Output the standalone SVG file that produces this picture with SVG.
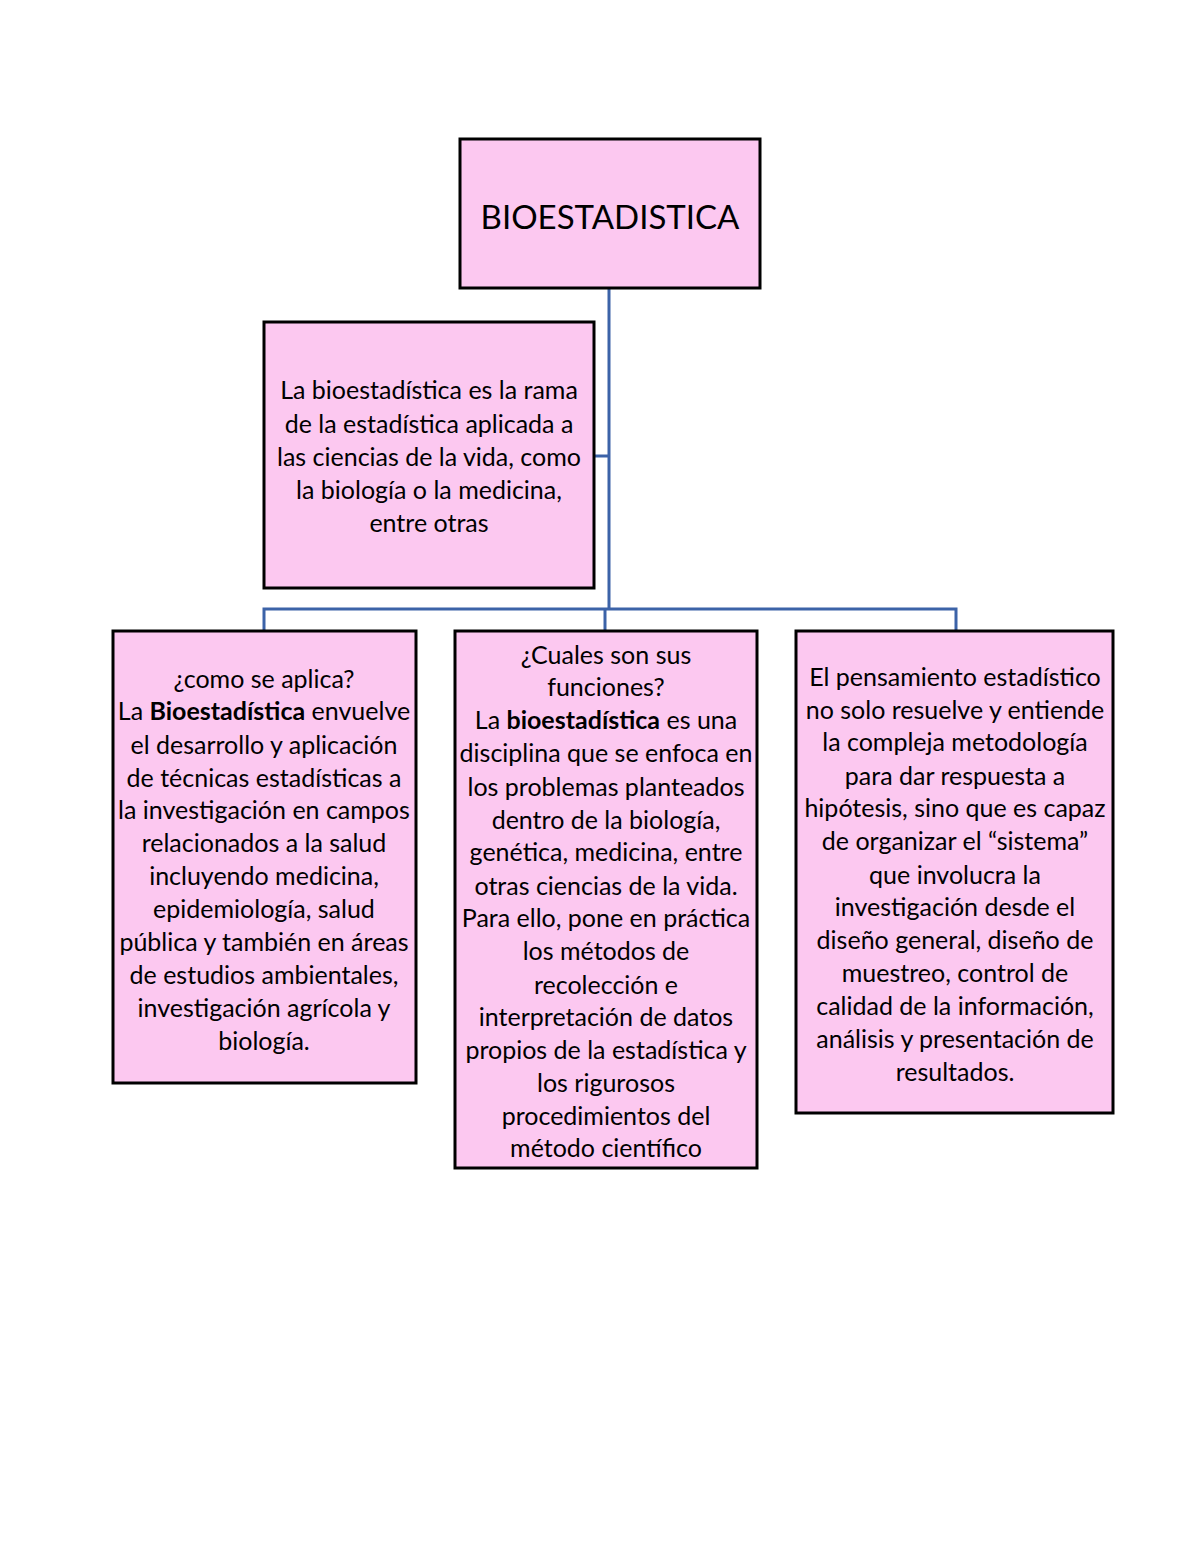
<svg xmlns="http://www.w3.org/2000/svg" width="1200" height="1553" viewBox="0 0 1200 1553">
<style>
.box{fill:#FCC8F0;stroke:#000;stroke-width:3}
.t{font-family:Lato,"Liberation Sans",sans-serif;font-size:25px;fill:#000;text-anchor:middle}
.title{font-family:Lato,"Liberation Sans",sans-serif;font-size:33px;fill:#000;text-anchor:middle}
.c{fill:none;stroke:#3C63A8;stroke-width:3}
</style>
<rect width="1200" height="1553" fill="#fff"/>
<g id="connectors">
<path class="c" d="M609 288V609"/>
<path class="c" d="M594 456H609"/>
<path class="c" d="M264 631V609H956V631"/>
<path class="c" d="M605 609V631"/>
</g>
<g id="n-bio">
<rect class="box" x="460" y="139" width="300" height="149"/>
<text class="title" x="610" y="229">BIOESTADISTICA</text>
</g>
<g id="n-def">
<rect class="box" x="264" y="322" width="330" height="266"/>
<text class="t"><tspan x="429" y="399">La bioestadística es la rama</tspan><tspan x="429" y="433">de la estadística aplicada a</tspan><tspan x="429" y="466">las ciencias de la vida, como</tspan><tspan x="429" y="499">la biología o la medicina,</tspan><tspan x="429" y="532">entre otras</tspan></text>
</g>
<g id="n-aplica">
<rect class="box" x="113" y="631" width="303" height="452"/>
<text class="t"><tspan x="264" y="688">¿como se aplica?</tspan><tspan x="264" y="720">La <tspan font-weight="bold">Bioestadística</tspan> envuelve</tspan><tspan x="264" y="754">el desarrollo y aplicación</tspan><tspan x="264" y="787">de técnicas estadísticas a</tspan><tspan x="264" y="819">la investigación en campos</tspan><tspan x="264" y="852">relacionados a la salud</tspan><tspan x="264" y="885">incluyendo medicina,</tspan><tspan x="264" y="918">epidemiología, salud</tspan><tspan x="264" y="951">pública y también en áreas</tspan><tspan x="264" y="984">de estudios ambientales,</tspan><tspan x="264" y="1017">investigación agrícola y</tspan><tspan x="264" y="1050">biología.</tspan></text>
</g>
<g id="n-funciones">
<rect class="box" x="455" y="631" width="302" height="537"/>
<text class="t"><tspan x="606" y="664">¿Cuales son sus</tspan><tspan x="606" y="696">funciones?</tspan><tspan x="606" y="729">La <tspan font-weight="bold">bioestadística</tspan> es una</tspan><tspan x="606" y="762">disciplina que se enfoca en</tspan><tspan x="606" y="796">los problemas planteados</tspan><tspan x="606" y="829">dentro de la biología,</tspan><tspan x="606" y="861">genética, medicina, entre</tspan><tspan x="606" y="895">otras ciencias de la vida.</tspan><tspan x="606" y="927">Para ello, pone en práctica</tspan><tspan x="606" y="960">los métodos de</tspan><tspan x="606" y="994">recolección e</tspan><tspan x="606" y="1026">interpretación de datos</tspan><tspan x="606" y="1059">propios de la estadística y</tspan><tspan x="606" y="1092">los rigurosos</tspan><tspan x="606" y="1125">procedimientos del</tspan><tspan x="606" y="1157">método científico</tspan></text>
</g>
<g id="n-pensamiento">
<rect class="box" x="796" y="631" width="317" height="482"/>
<text class="t"><tspan x="955" y="686">El pensamiento estadístico</tspan><tspan x="955" y="719">no solo resuelve y entiende</tspan><tspan x="955" y="751">la compleja metodología</tspan><tspan x="955" y="785">para dar respuesta a</tspan><tspan x="955" y="817">hipótesis, sino que es capaz</tspan><tspan x="955" y="850">de organizar el “sistema”</tspan><tspan x="955" y="884">que involucra la</tspan><tspan x="955" y="916">investigación desde el</tspan><tspan x="955" y="949">diseño general, diseño de</tspan><tspan x="955" y="982">muestreo, control de</tspan><tspan x="955" y="1015">calidad de la información,</tspan><tspan x="955" y="1048">análisis y presentación de</tspan><tspan x="955" y="1081">resultados.</tspan></text>
</g>
</svg>
